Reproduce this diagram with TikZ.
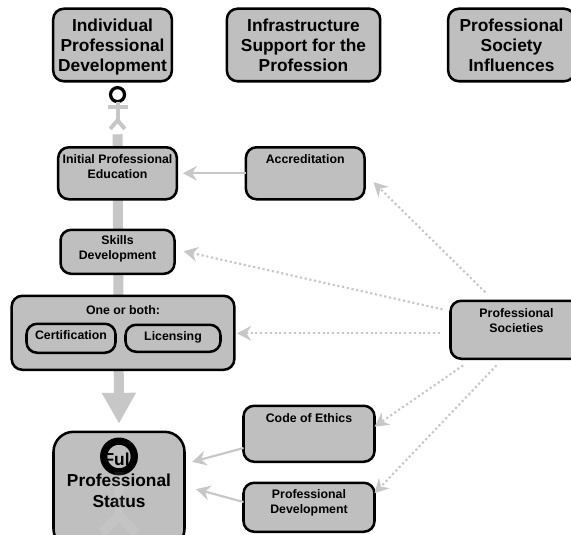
\documentclass[tikz,border=0pt]{standalone}
\usepackage{fontspec}
\setmainfont{Liberation Sans}
\usetikzlibrary{arrows.meta,positioning,backgrounds}
\definecolor{boxgray}{gray}{0.75}
\definecolor{linkgray}{gray}{0.78}

\begin{document}
\begin{tikzpicture}[
    box/.style={rectangle, draw=black, line width=1.9pt, rounded corners=8pt, fill=boxgray, align=center, outer sep=0pt, inner sep=0pt, font=\bfseries\fontsize{9.25}{11.25}\selectfont},
    bigbox/.style={box, text depth=0pt, font=\bfseries\fontsize{13}{15}\selectfont},
    stem/.style={-{Triangle[length=23.25pt,width=24pt]}, line width=7.5pt, draw=linkgray},
    arrow/.style={-{Stealth[length=10.5pt,width=11pt,inset=3.5pt]}, line width=1.6pt, draw=linkgray},
    dotarrow/.style={-{Stealth[length=10.5pt,width=11pt,inset=3.5pt]}, line width=1.6pt, draw=linkgray, dotted},
    ring/.style={circle, draw=black, inner sep=0pt, outer sep=0pt},
    limb/.style={line width=3pt, draw=linkgray},
    ghost/.style={line width=7pt, draw=white, opacity=0.09}
]
\useasboundingbox (0pt,0pt) rectangle (428.25pt,-401.25pt);

% Column Headings
\node[bigbox, minimum width=89pt, minimum height=54.4pt] (individual) at (84.4pt,-33.75pt) {Individual\\Professional\\Development};
\node[bigbox, minimum width=115pt, minimum height=54.4pt, right=41.25pt of individual] (infra) {Infrastructure\\Support for the\\Profession};
\node[bigbox, minimum width=95pt, minimum height=54.4pt, right=51pt of infra] (influences) {Professional\\Society\\Influences};

% Individual Path
\node[box, minimum width=89pt, minimum height=39pt, text depth=10pt, below=49.5pt of individual, xshift=3.75pt] (initial) {Initial Professional\\Education};
\node[box, minimum width=85.5pt, minimum height=33pt, text depth=6pt, below=22.9pt of initial] (skills) {Skills\\Development};
\node[box, minimum width=167pt, minimum height=55.5pt, text depth=34pt, below=16.5pt of skills, xshift=4.1pt] (oneboth) {One or both:};
\node[box, minimum width=66.75pt, minimum height=21.75pt, text depth=4.5pt, xshift=-39pt, yshift=-4.1pt] (certification) at (oneboth) {Certification};
\node[box, minimum width=71.25pt, minimum height=20.25pt, text depth=3pt, right=7.5pt of certification] (licensing) {Licensing};
\node[bigbox, rounded corners=15pt, minimum width=98.25pt, minimum height=87.75pt, text depth=15pt, below=46.5pt of oneboth, xshift=-3pt, font=\bfseries\fontsize{13}{15.75}\selectfont] (status) {Full\\Professional\\Status};

% Infrastructure
\node[box, minimum width=89pt, minimum height=39pt, text depth=21.5pt, right=51.75pt of initial] (accreditation) {Accreditation};
\node[box, minimum width=98.25pt, minimum height=42pt, text depth=23.5pt, right=44.25pt of status, yshift=42.4pt] (ethics) {Code of Ethics};
\node[box, minimum width=98.25pt, minimum height=36.75pt, text depth=8.5pt, below=15.75pt of ethics] (profdev) {Professional\\Development};

% Society
\node[box, minimum width=99pt, minimum height=43.5pt, text depth=14pt, right=57pt of ethics, yshift=78pt] (societies) {Professional\\Societies};

% Figures
\coordinate[above=9.75pt of initial] (stemtop);
\node[ring, line width=2.4pt, minimum size=10.5pt, above=24.5pt of stemtop] (head) {};
\draw[limb] (head.south) -- ++(0,-14pt) coordinate (hip);
\draw[limb] ([xshift=-7.5pt,yshift=-4pt]head.south) -- ([xshift=7.5pt,yshift=-4pt]head.south);
\draw[limb] (hip) -- ++(-5.5pt,-6.5pt);
\draw[limb] (hip) -- ++(5.5pt,-6.5pt);

\node[ring, line width=5.4pt, minimum size=23pt, below=7pt of status.north] (bighead) {};
\draw[ghost] (bighead.south) -- ++(0,-33pt) -- ++(-13pt,-13pt) ++(13pt,13pt) -- ++(13pt,-13pt);

% Arrows
\begin{scope}[on background layer]
\draw[stem] (stemtop) -- ([yshift=6pt]status.north);
\end{scope}
\draw[arrow, shorten >=4.5pt] (accreditation) -- (initial);
\draw[arrow, shorten >=6pt] (ethics.west |- 0,-336pt) -- (status.east |- 0,-348pt);
\draw[arrow, shorten >=9pt] (profdev.west |- 0,-376.5pt) -- (status.east |- 0,-364.5pt);
\draw[dotarrow, shorten <=2pt, shorten >=9.5pt] (societies.north) ++(-22pt,5pt) -- (accreditation.east);
\draw[dotarrow, shorten >=7pt] (societies.west |- 0,-232pt) ++(-6pt,0) -- ([yshift=2pt]skills.east);
\draw[dotarrow, shorten >=2pt] (societies.west |- 0,-250pt) ++(-8pt,0) -- (oneboth.east |- 0,-250pt);
\draw[dotarrow] (societies.south) ++(-40pt,-5pt) -- (ethics.east |- 0,-320pt);
\draw[dotarrow] (societies.south) ++(-15pt,-5pt) -- (profdev.east |- 0,-370pt);

\end{tikzpicture}
\end{document}
